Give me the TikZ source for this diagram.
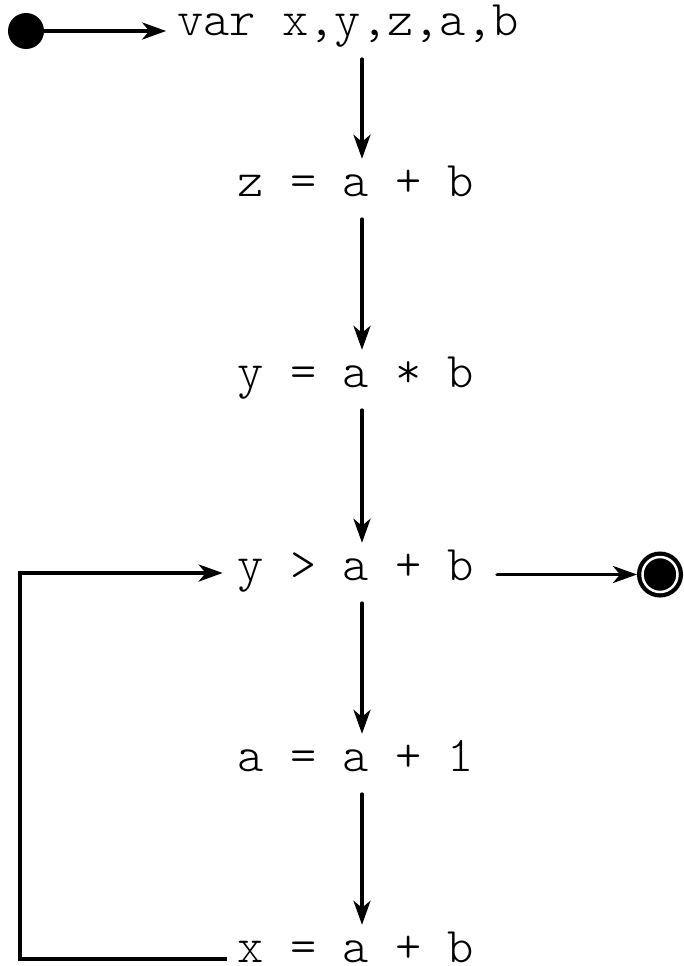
\documentclass[tikz,border=0pt]{standalone}
\usetikzlibrary{arrows.meta}
\begin{document}
\begin{tikzpicture}[x=1pt,y=-1pt,
  code/.style={font=\fontfamily{lmtt}\fontseries{l}\fontsize{50}{50}\selectfont, anchor=base, text height=27pt, text depth=13pt, inner ysep=10pt, inner xsep=11pt},
  conn/.style={line width=3.8pt, line cap=round},
  arr/.style={conn, -{Stealth[length=24pt,width=17pt,inset=7pt]}},
  startdot/.style={circle, fill=black, inner sep=0pt, minimum size=36pt},
  enddot/.style={circle, fill=black, inner sep=0pt, minimum size=35pt, draw=white, line width=2.5pt, outer sep=5.5pt,
    preaction={draw=black, line width=11pt}}]
\useasboundingbox (0,0) rectangle (683,966);
\node[code, text height=20pt] (n1) at (348,36) {var x,y,z,a,b};
\node[code] (n2) at (356,196) {z = a + b};
\node[code] (n3) at (356,387) {y = a * b};
\node[code] (n4) at (356,580) {y > a + b};
\node[code] (n5) at (356,771) {a = a + 1};
\node[code, text height=34pt, text depth=0pt, inner ysep=3pt] (n6) at (356,962) {x = a + b};
\node[startdot] (s) at (26,31) {};
\node[enddot] (e) at (660,574.5) {};
\coordinate (ax) at (362,0);
\coordinate (lx) at (20,573);
\draw[arr] (s.east) -- (s.east -| n1.west);
\draw[arr] (n1.south -| ax) -- (n2.north -| ax);
\draw[arr] (n2.south -| ax) -- (n3.north -| ax);
\draw[arr] (n3.south -| ax) -- (n4.north -| ax);
\draw[arr] (n4.south -| ax) -- (n5.north -| ax);
\draw[arr] (n5.south -| ax) -- (n6.north -| ax);
\draw[arr, shorten <=12pt] (e.west -| n4.east) -- (e.west);
\draw[arr, line cap=butt, shorten >=4pt] ([yshift=3pt]n6.base west) -| (lx) -- ([yshift=7pt]n4.base west);
\end{tikzpicture}
\end{document}
